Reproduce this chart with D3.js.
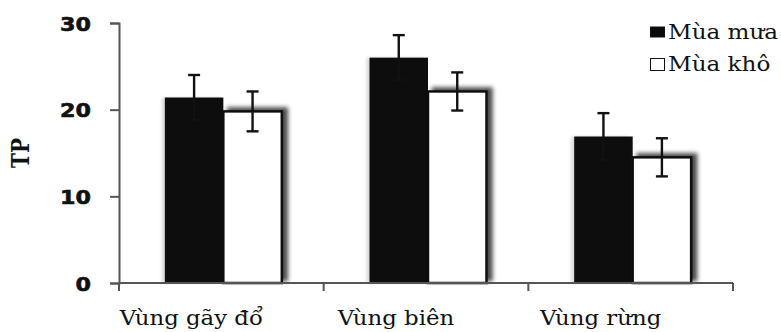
<!DOCTYPE html>
<html>
<head>
<meta charset="utf-8">
<script src="https://cdn.jsdelivr.net/npm/d3@7"></script>
<style>
  body { margin: 0; background: #fff; }
</style>
</head>
<body>
<div id="wrapper"></div>
<script>
const categories = ["Vùng gãy đổ", "Vùng biên", "Vùng rừng"];
const seriesNames = ["Mùa mưa", "Mùa khô"];
const rainyValues = [21.4, 26.0, 16.9];
const rainyErrors = [2.6, 2.6, 2.7];
const dryValues = [19.8, 22.1, 14.5];
const dryErrors = [2.3, 2.2, 2.2];
const yTicks = [0, 10, 20, 30];
const yLabel = "TP";

const stretch = 1.17; // the picture's text is a bit wide

const dimensions = {
  width: 781,
  height: 332,
  margin: { top: 23, right: 48, bottom: 49, left: 119 },
};
dimensions.boundedWidth = dimensions.width - dimensions.margin.left - dimensions.margin.right;
dimensions.boundedHeight = dimensions.height - dimensions.margin.top - dimensions.margin.bottom;

const data = categories.map((c, i) => ({
  category: c,
  values: [
    { series: seriesNames[0], value: rainyValues[i], err: rainyErrors[i] },
    { series: seriesNames[1], value: dryValues[i], err: dryErrors[i] },
  ],
}));

const wrapper = d3.select("#wrapper")
  .append("svg")
  .attr("width", dimensions.width)
  .attr("height", dimensions.height);

const defs = wrapper.append("defs");
const shadow = defs.append("filter")
  .attr("id", "shadow")
  .attr("x", "-20%").attr("y", "-20%")
  .attr("width", "150%").attr("height", "150%");
shadow.append("feGaussianBlur").attr("in", "SourceAlpha").attr("stdDeviation", 2.2).attr("result", "blur");
shadow.append("feOffset").attr("in", "blur").attr("dx", 5).attr("dy", -3).attr("result", "off");
shadow.append("feFlood").attr("flood-color", "#000").attr("flood-opacity", 0.7);
shadow.append("feComposite").attr("in2", "off").attr("operator", "in").attr("result", "sh");
const m1 = shadow.append("feMerge");
m1.append("feMergeNode").attr("in", "sh");
m1.append("feMergeNode").attr("in", "SourceGraphic");

const halo = defs.append("filter")
  .attr("id", "halo")
  .attr("x", "-20%").attr("y", "-20%")
  .attr("width", "140%").attr("height", "140%");
halo.append("feGaussianBlur").attr("in", "SourceAlpha").attr("stdDeviation", 1.5).attr("result", "blur");
halo.append("feOffset").attr("in", "blur").attr("dx", -3).attr("dy", 0).attr("result", "off");
halo.append("feFlood").attr("flood-color", "#000").attr("flood-opacity", 0.15);
halo.append("feComposite").attr("in2", "off").attr("operator", "in").attr("result", "sh");
const m2 = halo.append("feMerge");
m2.append("feMergeNode").attr("in", "sh");
m2.append("feMergeNode").attr("in", "SourceGraphic");

const bounds = wrapper.append("g")
  .attr("transform", `translate(${dimensions.margin.left},${dimensions.margin.top})`);

// scales
const x0 = d3.scaleBand()
  .domain(categories)
  .range([0, dimensions.boundedWidth])
  .padding(0);

const x1 = d3.scaleBand()
  .domain(seriesNames)
  .range([2, x0.bandwidth() + 2])
  .paddingInner(0)
  .paddingOuter(0.75);

const yScale = d3.scaleLinear()
  .domain([0, 30])
  .range([dimensions.boundedHeight, 0]);

const colors = { "Mùa mưa": "#0a0a0a", "Mùa khô": "#ffffff" };

// bars
const groups = bounds.selectAll(".group")
  .data(data)
  .join("g")
  .attr("class", "group")
  .attr("transform", d => `translate(${x0(d.category)},0)`);

groups.selectAll("rect.bar")
  .data(d => d.values)
  .join("rect")
  .attr("class", "bar")
  .attr("x", d => x1(d.series))
  .attr("y", d => yScale(d.value))
  .attr("width", x1.bandwidth())
  .attr("height", d => dimensions.boundedHeight - yScale(d.value))
  .attr("fill", d => colors[d.series])
  .attr("stroke", d => d.series === seriesNames[1] ? "#111" : "none")
  .attr("stroke-width", 2.5)
  .attr("filter", d => d.series === seriesNames[1] ? "url(#shadow)" : "url(#halo)");

// error bars
const capW = 6;
const err = groups.selectAll("g.err")
  .data(d => d.values)
  .join("g")
  .attr("class", "err")
  .attr("transform", d => `translate(${x1(d.series) + x1.bandwidth() / 2},0)`)
  .attr("stroke", "#111")
  .attr("stroke-width", 2.4);
err.append("line")
  .attr("y1", d => yScale(d.value + d.err))
  .attr("y2", d => yScale(d.value - d.err));
err.append("line")
  .attr("x1", -capW).attr("x2", capW)
  .attr("y1", d => yScale(d.value + d.err))
  .attr("y2", d => yScale(d.value + d.err));
err.append("line")
  .attr("x1", -capW).attr("x2", capW)
  .attr("y1", d => yScale(d.value - d.err))
  .attr("y2", d => yScale(d.value - d.err));

// axes
const yAxis = d3.axisLeft(yScale)
  .tickValues(yTicks)
  .tickSize(9)
  .tickPadding(19);
const yAxisGroup = bounds.append("g").call(yAxis);
yAxisGroup.select(".domain").attr("stroke", "#555").attr("stroke-width", 2);
yAxisGroup.selectAll(".tick line").attr("stroke", "#555").attr("stroke-width", 2);
yAxisGroup.selectAll(".tick text")
  .attr("x", null)
  .attr("dy", null)
  .attr("transform", `translate(-28,7) scale(${stretch},1)`)
  .attr("fill", "#111")
  .attr("stroke", "#111")
  .attr("stroke-width", 0.6)
  .style("font-family", "'DejaVu Sans', sans-serif")
  .style("font-weight", "bold")
  .style("font-size", "19px");

const xAxisGroup = bounds.append("g")
  .attr("transform", `translate(0,${dimensions.boundedHeight})`);
xAxisGroup.append("line")
  .attr("x1", 0).attr("x2", dimensions.boundedWidth)
  .attr("stroke", "#555").attr("stroke-width", 2);
xAxisGroup.selectAll("line.tick")
  .data(categories.concat([null]))
  .join("line")
  .attr("class", "tick")
  .attr("x1", (d, i) => i * x0.step())
  .attr("x2", (d, i) => i * x0.step())
  .attr("y1", 0).attr("y2", 8)
  .attr("stroke", "#555").attr("stroke-width", 2);

xAxisGroup.selectAll("text")
  .data(categories)
  .join("text")
  .attr("transform", d => `translate(${x0(d) + x0.bandwidth() / 2 - 30},42) scale(${stretch},1)`)
  .attr("text-anchor", "middle")
  .attr("fill", "#111")
  .style("font-family", "'DejaVu Serif', serif")
  .style("font-size", "19.5px")
  .text(d => d);

// y label
wrapper.append("text")
  .attr("transform", `translate(29,153) scale(${stretch},1) rotate(-90)`)
  .attr("text-anchor", "middle")
  .attr("fill", "#111")
  .style("font-family", "'DejaVu Serif', serif")
  .style("font-weight", "bold")
  .style("font-size", "20px")
  .text(yLabel);

// legend
const legend = wrapper.append("g")
  .attr("transform", "translate(650,27)");
const legendItems = legend.selectAll("g")
  .data(seriesNames)
  .join("g")
  .attr("transform", (d, i) => `translate(0,${i * 32})`);
legendItems.append("rect")
  .attr("x", 0.5)
  .attr("y", (d, i) => i === 0 ? 0 : -0.5)
  .attr("width", 14)
  .attr("height", (d, i) => i === 0 ? 10 : 12)
  .attr("fill", d => colors[d])
  .attr("stroke", "#111")
  .attr("stroke-width", 1);
legendItems.append("text")
  .attr("transform", `translate(18,12) scale(1.1,1)`)
  .attr("fill", "#111")
  .style("font-family", "'DejaVu Serif', serif")
  .style("font-size", "21px")
  .text(d => d);
</script>
</body>
</html>
